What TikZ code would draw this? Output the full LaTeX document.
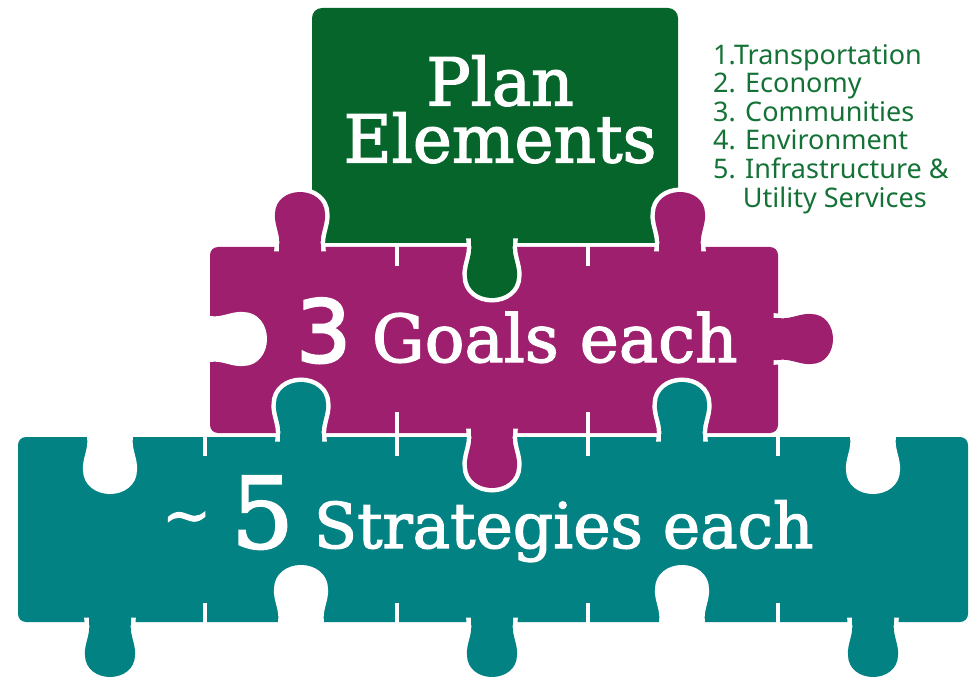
\documentclass[tikz,border=0pt]{standalone}
\usepackage{fontspec}
\usepackage{tikz}

\newfontfamily\slab[FakeBold=2]{DejaVu Serif}
\newfontfamily\digits[FakeBold=3]{DejaVu Sans}
\newfontfamily\listfont{Noto Sans}

\definecolor{leafgreen}{RGB}{5,101,42}
\definecolor{plum}{RGB}{158,31,110}
\definecolor{sea}{RGB}{3,130,132}
\definecolor{listgreen}{RGB}{20,114,54}

\newcommand{\bulb}{(-21,0) .. controls (-19,-12) and (-26,-22) .. (-25,-33)
  .. controls (-25,-47) and (-13,-55) .. (0,-55)
  .. controls (13,-55) and (25,-47) .. (25,-33)
  .. controls (26,-22) and (19,-12) .. (21,0)}
\newcommand{\puzzletab}[4]{%
  \path[halo, shift={(#2,#3)}, rotate=#4] \bulb -- cycle;
  \fill[#1, shift={(#2,#3)}, rotate=#4] \bulb -- (21,10) -- (-21,10) -- cycle;}
\newcommand{\puzzlehole}[3]{%
  \path[notch, shift={(#1,#2)}, rotate=#3] \bulb -- cycle;}

\tikzset{
  halo/.style={fill=white, draw=white, line width=9pt},
  notch/.style={fill=white, draw=white, line width=4pt},
  cutline/.style={white, line width=4pt},
  headline/.style={text=white, inner sep=0pt, anchor=base, font=\slab\fontsize{66}{66}\selectfont},
}

\begin{document}
\begin{tikzpicture}[x=1pt, y=-1pt]
  \useasboundingbox (0,0) rectangle (975,679);

  \fill[leafgreen, rounded corners=10pt] (312,8) rectangle (678,243);
  \fill[plum, rounded corners=8pt] (210,247) rectangle (778,433);
  \fill[sea, rounded corners=8pt] (18,437) rectangle (968,622);

  \puzzlehole{210}{339}{-90}
  \puzzlehole{110}{437}{180}
  \puzzlehole{873}{437}{180}
  \puzzlehole{301}{622}{0}
  \puzzlehole{682}{622}{0}

  \foreach \x in {397,588} {
    \draw[cutline] (\x,243) -- (\x,266);
    \draw[cutline] (\x,412) -- (\x,437);
  }
  \foreach \x in {205,397,588,778} {
    \draw[cutline] (\x,433) -- (\x,456);
    \draw[cutline] (\x,603) -- (\x,626);
  }

  \puzzletab{leafgreen}{492}{243}{180}
  \puzzletab{plum}{300}{247}{0}
  \puzzletab{plum}{680}{247}{0}
  \puzzletab{plum}{492}{433}{180}
  \puzzletab{plum}{778}{339}{-90}
  \puzzletab{sea}{301}{437}{0}
  \puzzletab{sea}{682}{437}{0}
  \puzzletab{sea}{110}{622}{180}
  \puzzletab{sea}{492}{622}{180}
  \puzzletab{sea}{873}{622}{180}

  \node[headline, align=center, anchor=north, font=\slab\fontsize{66}{57}\selectfont] (plan) at (500,55) {Plan\\Elements};
  \node[headline] (goals) at (517,362) {{\digits\fontsize{86}{86}\selectfont 3} Goals each};
  \node[headline, font=\slab\fontsize{63}{63}\selectfont] (strategies) at (488,548)
    {\raisebox{13pt}{\fontsize{58}{58}\selectfont\textasciitilde} {\fontsize{99}{99}\selectfont 5} Strategies each};

  \node[text=listgreen, font=\listfont\fontsize{27}{28.6}\selectfont, align=left,
    anchor=north west, inner sep=0pt] (elementlist) at (713,44)
    {1.Transportation\\2. Economy\\3. Communities\\4. Environment\\5. Infrastructure \&\\\phantom{5.\ }Utility Services};
\end{tikzpicture}
\end{document}
